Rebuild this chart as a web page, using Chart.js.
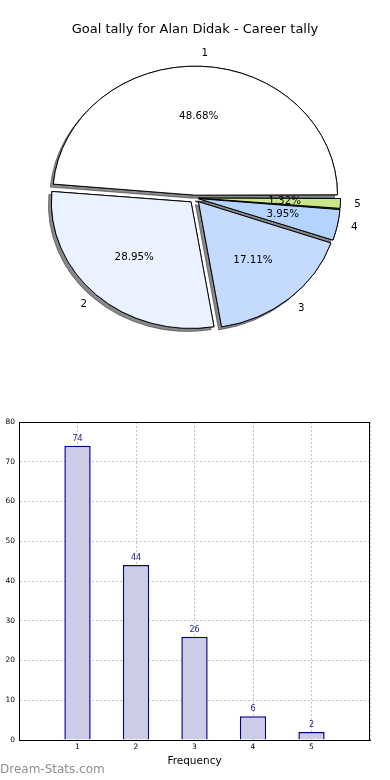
<!DOCTYPE html>
<html>
<head>
<meta charset="utf-8">
<script src="https://cdn.jsdelivr.net/npm/chart.js@4.4.0/dist/chart.umd.min.js"></script>
<style>
  html, body { margin: 0; padding: 0; background: #fff; }
  #wrap { position: relative; width: 390px; height: 780px; }
  #pie { position: absolute; left: 0; top: 0; }
  #bars { position: absolute; left: 0; top: 390px; }
</style>
</head>
<body>
<div id="wrap">
  <canvas id="pie" width="390" height="390"></canvas>
  <canvas id="bars" width="390" height="390"></canvas>
</div>
<script>
// data
const goalCategories = ['1', '2', '3', '4', '5'];
const goalFrequency = [74, 44, 26, 6, 2];

const FONT = "'DejaVu Sans', sans-serif";
const sliceColors = ['#ffffff', '#eaf2ff', '#c4daff', '#b4d4ff', '#c8e68a'];
const EXPLODE = 6;      // px shift of every wedge
const SQUASH = 0.906;   // pie is drawn as an ellipse
const BAR_FILL = '#ccccE6';
const BAR_EDGE = '#000088';
const GRID = '#c4c4c4';

Chart.defaults.font.family = FONT;

const total = goalFrequency.reduce((a, b) => a + b, 0);

// chart.js goes clockwise, matplotlib counter-clockwise: feed it reversed
const pieValues = goalFrequency.slice().reverse();
const pieLabels = goalCategories.slice().reverse();
const pieColors = sliceColors.slice().reverse();
// ArcElement divides offset by 4 and adds extra for wide wedges
const pieOffsets = pieValues.map((v) => {
  const c = (v / total) * Math.PI * 2;
  const fix = 1 - Math.sin(Math.min(Math.PI, c));
  return (4 * EXPLODE) / (1 + fix);
});

const squashPie = {
  id: 'squashPie',
  beforeDatasetsDraw(chart) {
    const ctx = chart.ctx;
    const meta = chart.getDatasetMeta(0);
    const cy = meta.data[0].y;
    ctx.save();
    ctx.translate(0, cy);
    ctx.scale(1, SQUASH);
    ctx.translate(0, -cy);
    // shadow pass first, so every shadow ends up under all the wedges
    ctx.save();
    ctx.shadowColor = 'rgba(40,40,40,0.55)';
    ctx.shadowOffsetX = -3;
    ctx.shadowOffsetY = 3;
    ctx.shadowBlur = 0;
    meta.data.forEach((arc) => arc.draw(ctx));
    ctx.restore();
  },
  afterDatasetsDraw(chart) {
    const ctx = chart.ctx;
    ctx.restore();
    const meta = chart.getDatasetMeta(0);
    ctx.save();
    ctx.fillStyle = '#000';
    ctx.font = '10.3px ' + FONT;
    ctx.textBaseline = 'middle';
    meta.data.forEach((arc, i) => {
      const mid = (arc.startAngle + arc.endAngle) / 2;
      const r = arc.outerRadius;
      const px = (f) => arc.x + Math.cos(mid) * (EXPLODE + f * r);
      const py = (f) => arc.y + SQUASH * Math.sin(mid) * (EXPLODE + f * r);
      ctx.textAlign = 'center';
      ctx.fillText(((pieValues[i] / total) * 100).toFixed(2) + '%', px(0.6), py(0.6));
      ctx.textAlign = Math.cos(mid) > 0 ? 'left' : 'right';
      ctx.fillText(pieLabels[i], px(1.1), py(1.1));
    });
    ctx.restore();
  }
};

new Chart(document.getElementById('pie'), {
  type: 'pie',
  data: {
    labels: pieLabels,
    datasets: [{
      data: pieValues,
      backgroundColor: pieColors,
      borderColor: '#000',
      borderWidth: 1,
      radius: 139.5,
      offset: pieOffsets,
      hoverOffset: 0
    }]
  },
  options: {
    responsive: false,
    animation: false,
    events: [],
    rotation: 90,
    layout: { padding: { bottom: 31.6 } },
    plugins: {
      legend: { display: false },
      tooltip: { enabled: false },
      title: {
        display: true,
        text: 'Goal tally for Alan Didak - Career tally',
        color: '#000',
        font: { family: FONT, size: 13, weight: 'normal' },
        padding: { top: 22, bottom: 0 }
      }
    }
  },
  plugins: [squashPie]
});

const barExtras = {
  id: 'barExtras',
  afterDatasetsDraw(chart) {
    const ctx = chart.ctx;
    const meta = chart.getDatasetMeta(0);
    ctx.save();
    ctx.fillStyle = '#1c1c8c';
    ctx.font = '8px ' + FONT;
    ctx.textAlign = 'center';
    ctx.textBaseline = 'bottom';
    meta.data.forEach((bar, i) => {
      ctx.fillText(String(goalFrequency[i]), bar.x, bar.y - 3);
    });
    ctx.restore();
  },
  afterDraw(chart) {
    const ctx = chart.ctx;
    const a = chart.chartArea;
    ctx.save();
    ctx.strokeStyle = '#000';
    ctx.lineWidth = 1;
    ctx.strokeRect(Math.round(a.left) + 0.5, Math.round(a.top) + 0.5,
      Math.round(a.right - a.left) - 1, Math.round(a.bottom - a.top));
    ctx.fillStyle = '#8e8e8e';
    ctx.font = '12px ' + FONT;
    ctx.textAlign = 'left';
    ctx.textBaseline = 'middle';
    ctx.fillText('Dream-Stats.com', 0, 380);
    ctx.restore();
  }
};

new Chart(document.getElementById('bars'), {
  type: 'bar',
  data: {
    datasets: [{
      data: goalCategories.map((c, i) => ({ x: Number(c), y: goalFrequency[i] })),
      backgroundColor: BAR_FILL,
      borderColor: BAR_EDGE,
      borderWidth: 1.5,
      barPercentage: 0.45,
      categoryPercentage: 1
    }]
  },
  options: {
    responsive: false,
    animation: false,
    events: [],
    layout: { padding: { top: 32, right: 20, left: 0, bottom: 0 } },
    plugins: { legend: { display: false }, tooltip: { enabled: false } },
    scales: {
      x: {
        type: 'linear',
        min: 0,
        max: 6,
        offset: false,
        z: 1,
        ticks: {
          stepSize: 1,
          autoSkip: false,
          maxRotation: 0,
          padding: 3,
          color: '#000',
          font: { family: FONT, size: 7.5 },
          callback: (v) => (v >= 1 && v <= 5 ? String(v) : '')
        },
        grid: { color: GRID, drawTicks: false, offset: false },
        border: { dash: [2, 2], color: '#000' },
        title: {
          display: true,
          text: 'Frequency',
          color: '#000',
          font: { family: FONT, size: 10.5 },
          padding: { top: 0, bottom: 12 }
        },
        afterFit(scale) { scale.height = 40; }
      },
      y: {
        min: 0,
        max: 80,
        ticks: {
          stepSize: 10,
          padding: 4,
          color: '#000',
          font: { family: FONT, size: 7.5 }
        },
        grid: { color: GRID, drawTicks: false },
        border: { dash: [2, 2], color: '#000' },
        afterFit(scale) { scale.width = 19; }
      }
    }
  },
  plugins: [barExtras]
});
</script>
</body>
</html>
